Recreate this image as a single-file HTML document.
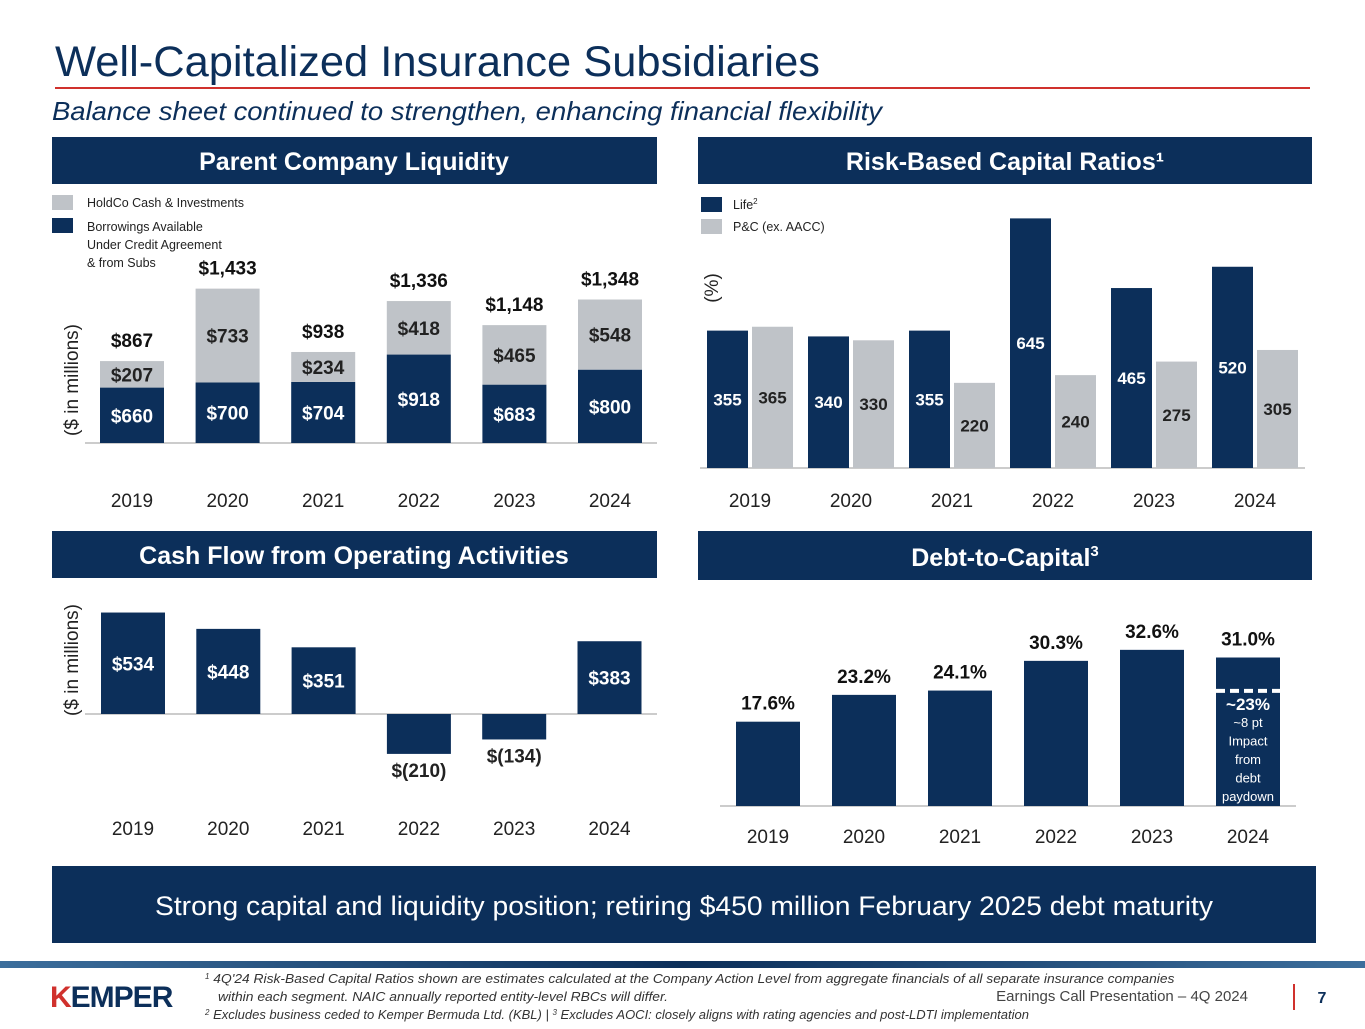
<!DOCTYPE html>
<html><head><meta charset="utf-8">
<style>
html,body{margin:0;padding:0;background:#fff;}
body{width:1365px;height:1024px;overflow:hidden;position:relative;font-family:"Liberation Sans",sans-serif;}
svg text{font-family:"Liberation Sans",sans-serif;}
</style></head>
<body>
<svg id="s" width="1365" height="1024" xmlns="http://www.w3.org/2000/svg">
<defs>
<linearGradient id="band" x1="0" x2="1" y1="0" y2="0">
<stop offset="0" stop-color="#3c6e9c"/><stop offset="0.5" stop-color="#0c2f5a"/><stop offset="1" stop-color="#3c6e9c"/>
</linearGradient>
</defs>
<text x="55" y="76" font-size="43" fill="#0c2f5a" textLength="765" lengthAdjust="spacingAndGlyphs">Well-Capitalized Insurance Subsidiaries</text>
<rect x="55" y="87" width="1255" height="2" fill="#d0312d"/>
<text x="52" y="120" font-size="26" font-style="italic" fill="#0c2f5a" textLength="830" lengthAdjust="spacingAndGlyphs">Balance sheet continued to strengthen, enhancing financial flexibility</text>

<rect x="52" y="137" width="605" height="47" fill="#0c2f5a"/>
<text x="354" y="170" font-size="25" font-weight="bold" fill="#fff" text-anchor="middle">Parent Company Liquidity</text>
<rect x="698" y="137" width="614" height="47" fill="#0c2f5a"/>
<text x="1005" y="170" font-size="25" font-weight="bold" fill="#fff" text-anchor="middle">Risk-Based Capital Ratios¹</text>
<rect x="52" y="531" width="605" height="47" fill="#0c2f5a"/>
<text x="354" y="564" font-size="25" font-weight="bold" fill="#fff" text-anchor="middle">Cash Flow from Operating Activities</text>
<rect x="698" y="531" width="614" height="49" fill="#0c2f5a"/>
<text x="1005" y="566" font-size="25" font-weight="bold" fill="#fff" text-anchor="middle">Debt-to-Capital<tspan font-size="15" dy="-10">3</tspan></text>

<rect x="52" y="195" width="21" height="15" fill="#bfc3c8"/>
<text x="87" y="207" font-size="12.5" fill="#222">HoldCo Cash &amp; Investments</text>
<rect x="52" y="218" width="21" height="15" fill="#0c2f5a"/>
<text font-size="12.5" fill="#222"><tspan x="87" y="231">Borrowings Available</tspan><tspan x="87" y="249">Under Credit Agreement</tspan><tspan x="87" y="267">&amp; from Subs</tspan></text>
<rect x="701" y="197" width="21" height="15" fill="#0c2f5a"/>
<text x="733" y="209" font-size="12.5" fill="#222">Life<tspan font-size="8" dy="-5">2</tspan></text>
<rect x="701" y="219" width="21" height="15" fill="#bfc3c8"/>
<text x="733" y="231" font-size="12.5" fill="#222">P&amp;C (ex. AACC)</text>

<text transform="translate(78,380) rotate(-90)" font-size="19" fill="#222" text-anchor="middle">($ in millions)</text>
<text transform="translate(78,660) rotate(-90)" font-size="19" fill="#222" text-anchor="middle">($ in millions)</text>
<text transform="translate(718,288) rotate(-90)" font-size="19" fill="#222" text-anchor="middle">(%)</text>

<g id="g1"></g><g id="g2"></g><g id="g3"></g><g id="g4"></g>

<rect x="52" y="866" width="1264" height="77" fill="#0c2f5a"/>
<text x="684" y="915" font-size="27" fill="#fff" text-anchor="middle" textLength="1058" lengthAdjust="spacingAndGlyphs">Strong capital and liquidity position; retiring $450 million February 2025 debt maturity</text>

<rect x="0" y="961" width="1365" height="7" fill="url(#band)"/>
<text x="50" y="1007" font-size="30" font-weight="bold" fill="#0c2f5a" letter-spacing="-1"><tspan fill="#d0312d">K</tspan>EMPER</text>
<text font-size="13" font-style="italic" fill="#333"><tspan x="205" y="983"><tspan font-size="8" dy="-4">1</tspan><tspan dy="4" textLength="965" lengthAdjust="spacingAndGlyphs"> 4Q'24 Risk-Based Capital Ratios shown are estimates calculated at the Company Action Level from aggregate financials of all separate insurance companies</tspan></tspan><tspan x="218" y="1001" textLength="450" lengthAdjust="spacingAndGlyphs">within each segment. NAIC annually reported entity-level RBCs will differ.</tspan><tspan x="205" y="1019"><tspan font-size="8" dy="-4">2</tspan><tspan dy="4"> Excludes business ceded to Kemper Bermuda Ltd. (KBL) | </tspan><tspan font-size="8" dy="-4">3</tspan><tspan dy="4"> Excludes AOCI: closely aligns with rating agencies and post-LDTI implementation</tspan></tspan></text>
<text x="1248" y="1001" font-size="15" fill="#444" text-anchor="end">Earnings Call Presentation – 4Q 2024</text>
<rect x="1293" y="984" width="2" height="26" fill="#d0312d"/>
<text x="1322" y="1003" font-size="16" font-weight="bold" fill="#0c2f5a" text-anchor="middle">7</text>
</svg>
<script>
const years = ["2019","2020","2021","2022","2023","2024"];
const borrowings = [660,700,704,918,683,800];
const holdco = [207,733,234,418,465,548];
const liqTotals = ["$867","$1,433","$938","$1,336","$1,148","$1,348"];
const rbcLife = [355,340,355,645,465,520];
const rbcPC = [365,330,220,240,275,305];
const cashFlow = [534,448,351,-210,-134,383];
const cashLabels = ["$534","$448","$351","$(210)","$(134)","$383"];
const debtCap = [17.6,23.2,24.1,30.3,32.6,31.0];
const debtAdj2024 = 23;

const NS="http://www.w3.org/2000/svg";
function mk(p,tag,a,txt){const e=document.createElementNS(NS,tag);for(const k in a)e.setAttribute(k,a[k]);if(txt!==undefined)e.textContent=txt;p.appendChild(e);return e;}
const NAVY="#0c2f5a",GRAY="#bfc3c8";
function axis(g,x0,x1,y,xs,ty){
  const l=mk(g,"line",{x1:x0,x2:x1,y1:y,y2:y,stroke:"#999","stroke-width":1});
  
  
  years.forEach((yr,i)=>{
    const t=mk(g,"text",{x:xs(i),y:ty,"font-size":19,fill:"#222","text-anchor":"middle"},yr);
    
    
  });
}
// chart 1 (truncated axis starting at ~227)
(function(){
  const g=document.getElementById("g1");
  const base=443, sc=0.128, y0=227, xs=i=>132+i*95.6, w=64;
  axis(g,85,657,base,xs,507);
  years.forEach((yr,i)=>{
    const hb=(borrowings[i]-y0)*sc, hh=holdco[i]*sc;
    const b=mk(g,"rect",{x:xs(i)-w/2,y:base-hb,width:w,height:hb,fill:NAVY});
    
    
    const h=mk(g,"rect",{x:xs(i)-w/2,y:base-hb-hh,width:w,height:hh,fill:GRAY});
    
    
    const t1=mk(g,"text",{x:xs(i),y:base-hb/2+7,"font-size":19,"font-weight":"bold",fill:"#fff","text-anchor":"middle"},"$"+borrowings[i]);
    
    
    const t2=mk(g,"text",{x:xs(i),y:base-hb-hh/2+7,"font-size":19,"font-weight":"bold",fill:"#222","text-anchor":"middle"},"$"+holdco[i]);
    
    
    const t3=mk(g,"text",{x:xs(i),y:base-hb-hh-14,"font-size":19,"font-weight":"bold",fill:"#111","text-anchor":"middle"},liqTotals[i]);
    
    
  });
})();
// chart 2
(function(){
  const g=document.getElementById("g2");
  const base=468, sc=0.387, xs=i=>750+i*101, w=41;
  axis(g,700,1305,base,xs,507);
  years.forEach((yr,i)=>{
    const hl=rbcLife[i]*sc, hp=rbcPC[i]*sc;
    const a=mk(g,"rect",{x:xs(i)-43,y:base-hl,width:w,height:hl,fill:NAVY});
    
    
    const b=mk(g,"rect",{x:xs(i)+2,y:base-hp,width:w,height:hp,fill:GRAY});
    
    
    const t1=mk(g,"text",{x:xs(i)-22.5,y:base-hl/2+6,"font-size":17,"font-weight":"bold",fill:"#fff","text-anchor":"middle"},rbcLife[i]);
    
    
    const t2=mk(g,"text",{x:xs(i)+22.5,y:base-hp/2+6,"font-size":17,"font-weight":"bold",fill:"#222","text-anchor":"middle"},rbcPC[i]);
    
    
  });
})();
// chart 3
(function(){
  const g=document.getElementById("g3");
  const base=714, sc=0.19, xs=i=>133+i*95.3, w=64;
  axis(g,85,657,base,xs,835);
  years.forEach((yr,i)=>{
    const v=cashFlow[i], h=Math.abs(v)*sc;
    const r=mk(g,"rect",{x:xs(i)-w/2,y:v>=0?base-h:base,width:w,height:h,fill:NAVY});
    
    
    const t=mk(g,"text",{x:xs(i),y:v>=0?base-h/2+7:base+h+23,"font-size":19,"font-weight":"bold",fill:v>=0?"#fff":"#222","text-anchor":"middle"},cashLabels[i]);
    
    
  });
})();
// chart 4
(function(){
  const g=document.getElementById("g4");
  const base=806, sc=4.79, xs=i=>768+i*96, w=64;
  axis(g,720,1296,base,xs,843);
  years.forEach((yr,i)=>{
    const h=debtCap[i]*sc;
    const r=mk(g,"rect",{x:xs(i)-w/2,y:base-h,width:w,height:h,fill:NAVY});
    
    
    const t=mk(g,"text",{x:xs(i),y:base-h-12,"font-size":19,"font-weight":"bold",fill:"#111","text-anchor":"middle"},debtCap[i].toFixed(1)+"%");
    
    
  });
  const xc=xs(5), yd=base-debtAdj2024*sc-5;
  const d=mk(g,"line",{x1:xc-w/2,x2:xc+w/2+4,y1:yd,y2:yd,stroke:"#fff","stroke-width":4,"stroke-dasharray":"9,5"});
  
  
  const a=mk(g,"text",{x:xc,y:yd+19,"font-size":17,"font-weight":"bold",fill:"#fff","text-anchor":"middle"},"~"+debtAdj2024+"%");
  
  
  ["~8 pt","Impact","from","debt","paydown"].forEach((s,k)=>{
    const t=mk(g,"text",{x:xc,y:yd+36+k*18.5,"font-size":13,fill:"#fff","text-anchor":"middle"},s);
    
    
  });
})();
</script>
</body></html>
